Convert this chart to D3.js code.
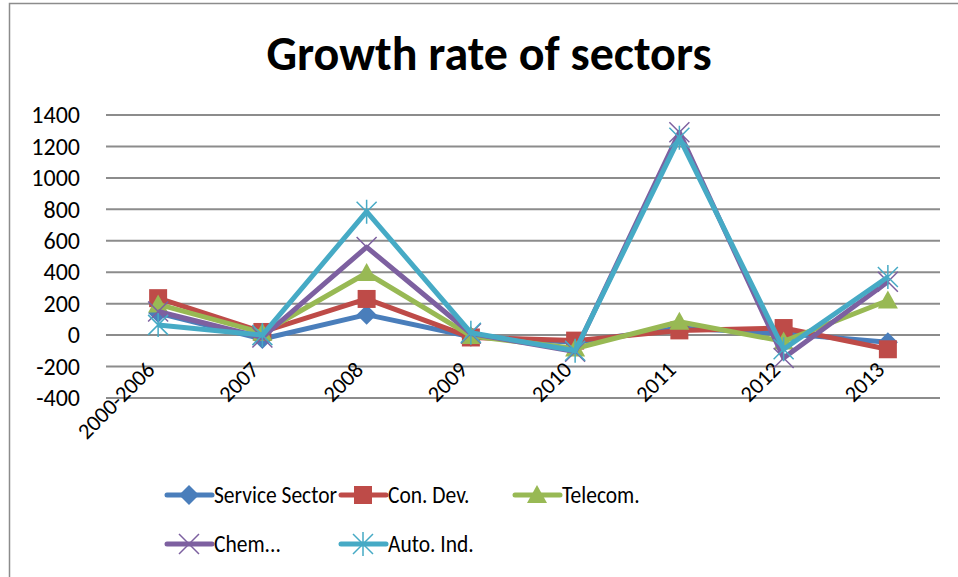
<!DOCTYPE html>
<html>
<head>
<meta charset="utf-8">
<script src="https://cdn.jsdelivr.net/npm/d3@7"></script>
<style>
  body { margin: 0; background: #fff; }
  text { font-family: Carlito, Lato, "Open Sans", sans-serif; }
</style>
</head>
<body>
<script>
// categories + series
var categories = ["2000-2006", "2007", "2008", "2009", "2010", "2011", "2012", "2013"];
var seriesNames = ["Service Sector", "Con. Dev.", "Telecom.", "Chem...", "Auto. Ind."];
var serviceSector = [140, -25, 130, -10, -45, 45, 10, -45];
var conDev = [235, 20, 230, -15, -35, 30, 45, -90];
var telecom = [195, 15, 395, -5, -85, 85, -40, 220];
var chem = [150, -15, 560, 10, -105, 1290, -145, 340];
var autoInd = [65, 0, 785, 15, -100, 1255, -90, 370];
var yTicks = [-400, -200, 0, 200, 400, 600, 800, 1000, 1200, 1400];

var colors = ["#4a7ebb", "#be4b48", "#98b954", "#7d60a0", "#46aac5"];
var symbols = ["diamond", "square", "triangle", "x", "star"];

var W = 958, H = 577;
var svg = d3.select("body").append("svg").attr("width", W).attr("height", H);

// outer chart border
svg.append("rect").attr("x", 9.5).attr("y", 3.5).attr("width", W + 10).attr("height", H + 10)
    .attr("fill", "none").attr("stroke", "#8c8c8c").attr("stroke-width", 1.5);

svg.append("text").attr("x", 489).attr("y", 70).attr("text-anchor", "middle")
    .attr("font-size", 48).attr("font-weight", "bold").text("Growth rate of sectors");

var x = d3.scalePoint().domain(categories).range([106, 940]).padding(0.5);
var y = d3.scaleLinear().domain([-400, 1400]).range([398, 115]);

// gridlines
svg.append("g").selectAll("line").data(yTicks).enter().append("line")
    .attr("x1", 106).attr("x2", 940)
    .attr("y1", function (d) { return y(d); }).attr("y2", function (d) { return y(d); })
    .attr("stroke", "#8c8c8c").attr("stroke-width", 2);

// y axis labels
var yAxis = d3.axisLeft(y).tickValues(yTicks).tickSize(0).tickPadding(0)
    .tickFormat(function (d) { return String(d); });
var gy = svg.append("g").attr("transform", "translate(80,0)").call(yAxis);
gy.select(".domain").remove();
gy.attr("font-size", null).attr("font-family", null);
gy.selectAll("text").attr("font-size", 24).attr("fill", "#000");

// x axis labels rotated (category axis sits at 0)
svg.append("g").selectAll("text").data(categories).enter().append("text")
    .attr("transform", function (d) {
        return "translate(" + (x(d) - 2) + "," + (y(0) + 36) + ") rotate(-45)";
    })
    .attr("text-anchor", "end").attr("font-size", 22.5).text(function (d) { return d; });

function markerPath(sym, size) {
    var s = size;
    if (sym === "diamond") return "M0," + (-s) + "L" + s + ",0L0," + s + "L" + (-s) + ",0Z";
    if (sym === "square") return "M" + (-s) + "," + (-s) + "h" + (2 * s) + "v" + (2 * s) + "h" + (-2 * s) + "Z";
    if (sym === "triangle") return "M0," + (-s) + "L" + s + "," + (s * 0.8) + "L" + (-s) + "," + (s * 0.8) + "Z";
    if (sym === "x") return "M" + (-s) + "," + (-s) + "L" + s + "," + s + "M" + s + "," + (-s) + "L" + (-s) + "," + s;
    return "M" + (-s) + "," + (-s) + "L" + s + "," + s + "M" + s + "," + (-s) + "L" + (-s) + "," + s + "M0," + (-s * 1.2) + "L0," + (s * 1.2);
}

function drawMarker(g, sym, color, cx, cy, size) {
    var filled = sym === "diamond" || sym === "square" || sym === "triangle";
    g.append("path").attr("d", markerPath(sym, size))
        .attr("transform", "translate(" + cx + "," + cy + ")")
        .attr("fill", filled ? color : "none")
        .attr("stroke", color).attr("stroke-width", filled ? 0 : 1.5);
}

var allSeries = [serviceSector, conDev, telecom, chem, autoInd];
var line = d3.line()
    .x(function (d, i) { return x(categories[i]); })
    .y(function (d) { return y(d); });

allSeries.forEach(function (vals, k) {
    var g = svg.append("g");
    g.append("path").datum(vals).attr("d", line).attr("fill", "none")
        .attr("stroke", colors[k]).attr("stroke-width", 5).attr("stroke-linejoin", "round");
    vals.forEach(function (v, i) {
        drawMarker(g, symbols[k], colors[k], x(categories[i]), y(v), k === 1 ? 9 : 10);
    });
});

// legend
var legendPos = [[167, 495], [341, 495], [515, 495], [167, 544], [341, 544]];
seriesNames.forEach(function (name, k) {
    var lx = legendPos[k][0], ly = legendPos[k][1];
    var g = svg.append("g");
    g.append("line").attr("x1", lx).attr("x2", lx + 45).attr("y1", ly).attr("y2", ly)
        .attr("stroke", colors[k]).attr("stroke-width", 5).attr("stroke-linecap", "round");
    drawMarker(g, symbols[k], colors[k], lx + 22, ly, k === 1 ? 9 : 10);
    g.append("text").attr("transform", "translate(" + (lx + 47) + "," + (ly + 8) + ") scale(1,1.15)")
        .attr("font-size", 21.5).text(name);
});
</script>
</body>
</html>
